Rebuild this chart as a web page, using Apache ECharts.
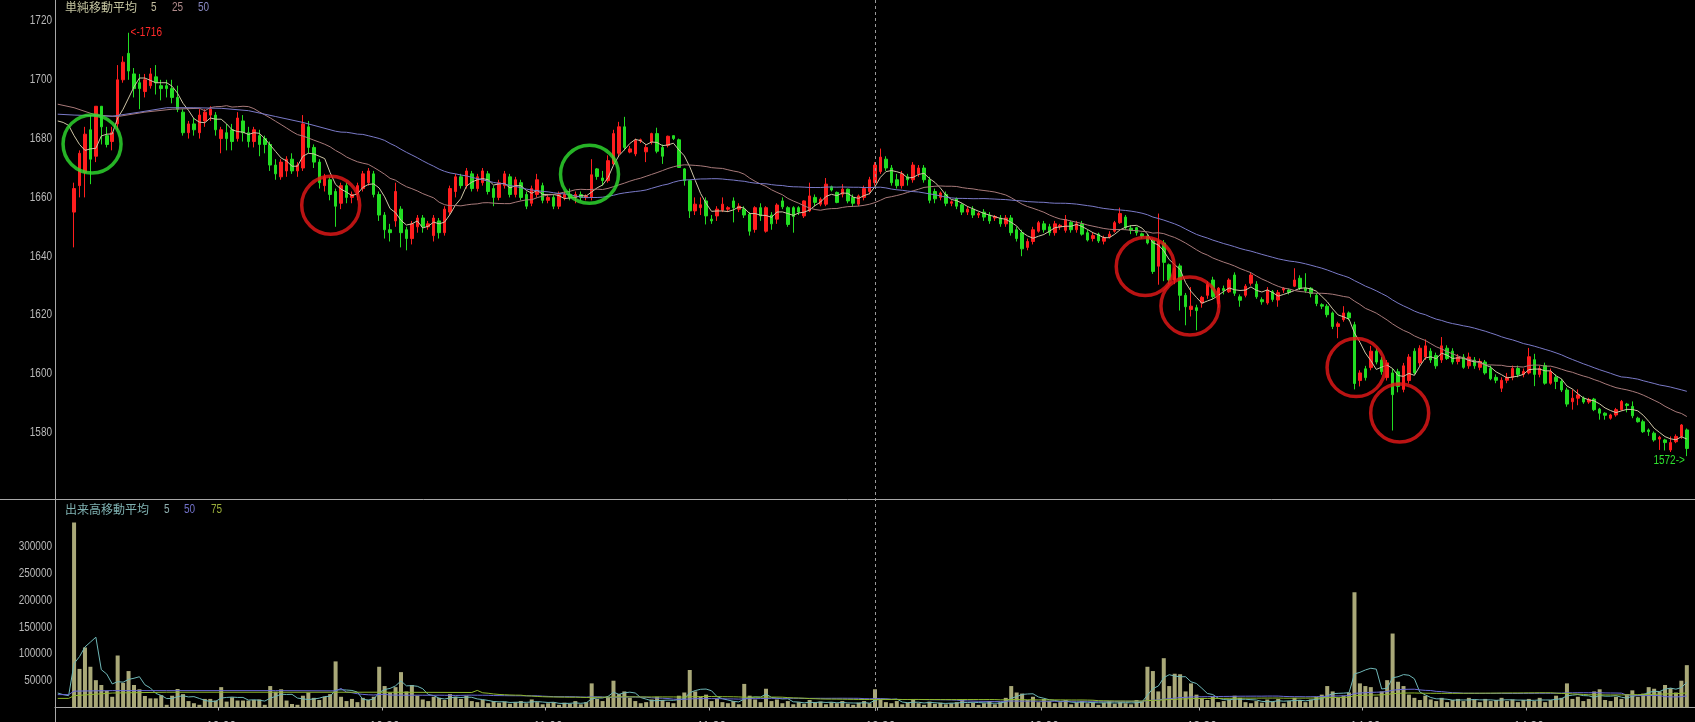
<!DOCTYPE html>
<html><head><meta charset="utf-8">
<script src="https://cdn.jsdelivr.net/npm/echarts@6/dist/echarts.min.js"></script>
<style>html,body{margin:0;padding:0;background:#000;overflow:hidden}#c{width:1695px;height:722px}</style>
</head><body><div id="c"></div>
<script>
// ---------- data ----------
const SLOTS = 301;      // category slots on the time axis
const FIRST = 3;        // slot of the first candle
const opens = [
1655,1664,1668.5,1683,1674,1691,1681,1679,1685,1700,
1709,1702,1699,1696,1698,1701,1698,1698,1697,1694,
1689,1682,1685,1682,1686,1688,1688,1680,1682,1683,
1680,1686,1682,1679,1681,1680,1678,1671,1667,1669,
1673,1669,1670,1684,1677,1672,1664,1666,1662,1658,
1664,1660,1661,1663,1665,1668,1661,1654,1649,1652,
1656,1649,1646,1650,1653,1650,1647,1652,1648,1655,
1662,1667,1664,1668,1663,1665,1668,1663,1660,1664,
1667,1661,1665,1661,1658,1661,1664,1659,1660,1657,
1660,1661,1660,1661,1660,1660,1669.7,1666.6,1665.7,1671.4,
1675,1684,1675.4,1674.8,1679.2,1675.5,1678.8,1681.7,1677,1677.7,
1681,1679.6,1669.7,1665.7,1655.4,1656.5,1658.8,1652.6,1653.7,1655.6,
1656,1658.8,1656,1656,1654.3,1649.1,1656.5,1648.5,1654,1652.6,
1658.8,1656.5,1656.5,1656.5,1653.7,1655.4,1660,1657.7,1657.7,1663.6,
1661.7,1661.1,1662.8,1660,1657.7,1660,1662,1665,1668.8,1673,
1670,1666,1664,1667,1666,1668,1670,1666,1662,1660,
1661,1658,1659.6,1657.5,1655,1656,1654,1655,1654,1653,
1653,1651,1653,1649,1648,1643,1645,1648.5,1651,1650,
1648,1650,1648.8,1651.5,1649,1651,1648,1646,1647.5,1645.1,
1646.5,1648.5,1651.4,1653.3,1649.5,1649.7,1647.6,1646.8,1645.4,1636.6,
1644.5,1637.1,1631.9,1636.7,1626.7,1621.9,1622.5,1624.1,1626.7,1631.9,
1623.9,1629,1627.9,1633.6,1626.2,1626.7,1630.8,1630.5,1625.2,1624.1,
1627.9,1625.1,1628.5,1628.5,1629.8,1632.5,1629.1,1629.1,1626.7,1623.5,
1623,1620.7,1616.1,1618.4,1620.7,1616.7,1597.7,1601.7,1602.1,1607.7,
1604.7,1598.7,1600.3,1600.7,1594.7,1597.7,1607.7,1603.7,1605.7,1607.7,
1606.2,1604.7,1608.7,1607.7,1604.2,1605.7,1602.7,1604.7,1602.2,1604,
1601.8,1598.8,1595.1,1597.8,1598.8,1601.8,1599.8,1600.3,1604.8,1599.8,
1602.8,1596.8,1598.8,1597.4,1594.5,1590.5,1591.7,1591.7,1590.4,1591.4,
1588,1586.6,1584.9,1586,1587.8,1589.7,1588.9,1584.9,1583.7,1580.9,
1579.8,1577.8,1577.5,1574.1,1576.9,1578.7,1580.9];
const closes = [
1663,1675,1681.5,1673,1691,1684,1678,1682,1700,1706,
1703,1697,1697,1700,1702,1699,1697,1697,1694,1690,
1682,1685,1683,1688,1689,1690,1683,1683,1680,1679,
1687,1682,1679,1683,1678,1678,1671,1668,1672,1673,
1669,1671,1685,1677,1672,1665,1667,1661,1657,1664,
1660,1661,1664,1668,1669,1661,1654,1649,1648,1662,
1648,1646,1651,1653,1650,1651,1653,1648,1656,1663,
1667,1664,1669,1663,1667,1669,1662,1660,1665,1668,
1661,1666,1660,1657,1663,1666,1659,1660,1657,1661,
1661,1660,1661,1660,1660.5,1667.7,1667.1,1665.7,1672.5,1681.7,
1684,1677,1676.5,1679.4,1679.6,1677,1681.7,1675.7,1674,1680.8,
1680,1670.2,1665.7,1655.4,1657.7,1657.5,1653.7,1652,1656,1657.7,
1656.5,1656.5,1657,1654,1648.5,1656.5,1653.7,1656.5,1651,1657.4,
1656.8,1650.8,1653.5,1655,1658.8,1660.5,1658.3,1659.4,1664.5,1662.5,
1658.3,1662.8,1658.8,1658,1660.5,1663,1666,1671,1673.7,1670,
1665,1664,1668,1666,1671,1670,1666,1659,1659.5,1661.5,
1658,1658.5,1657,1655,1656,1654,1654.5,1653.3,1652,1653.5,
1651,1653,1648,1646,1642.5,1645,1649,1651.4,1649,1648,
1651,1650.5,1652.5,1649,1651,1647.5,1645.5,1647,1645.2,1646.3,
1647.5,1651.4,1654.5,1649.7,1648.8,1648,1646.8,1644.5,1634.8,1645.1,
1637.9,1631.9,1635.9,1626.7,1622.8,1623,1621.5,1626,1630.5,1626.2,
1629.1,1628.3,1631.9,1627.4,1625,1629.8,1633.6,1626.2,1624.5,1628.5,
1625.3,1627.6,1629.1,1627.7,1631.9,1629.1,1628.3,1627.3,1623.9,1623,
1620.1,1616.1,1617,1620.7,1619,1596.7,1600.3,1598.7,1607.7,1604,
1600.7,1603.7,1592.9,1595.7,1602.7,1605.7,1600.3,1608.7,1609.5,1604.7,
1602.7,1609.5,1605.2,1604,1605.7,1602.2,1605.7,1602.7,1604.2,1600.3,
1598.3,1597.8,1597.8,1598.8,1601.8,1599.8,1600.8,1605.8,1599.8,1601.8,
1596.8,1600.8,1597.4,1594.5,1589.7,1591.7,1592.8,1590.4,1591.2,1587.8,
1586.6,1585.9,1586,1587.8,1590.6,1589.2,1585.7,1583.7,1580.3,1580.3,
1577.5,1578.4,1576.6,1576.6,1578.7,1582.6,1574.6];
const lows = [
1643,1660,1660,1664.5,1672,1678,1677,1676,1683,1699,
1700,1694,1690,1694,1697,1695,1693,1694,1692,1689,
1681,1680,1681,1680,1684,1686,1681,1675,1676,1676,
1679,1679,1677,1677,1674,1675,1669,1666,1666,1667,
1668,1667,1669,1675,1670,1663,1662,1659,1650,1656,
1658,1658,1659,1662,1664,1660,1652,1646,1645,1650,
1643,1642,1644,1648,1648,1649,1645,1646,1647,1654,
1660,1663,1663,1662,1662,1664,1661,1657,1659,1663,
1660,1660,1659,1656,1657,1660,1658,1658,1656,1656,
1659,1659,1658,1659,1659,1659,1666,1664,1665,1671,
1674,1676,1675,1674,1678.5,1672,1678,1675,1671.4,1677,
1679.5,1670,1664,1653,1654,1654,1650.8,1651,1652,1655,
1655,1651.5,1655,1653,1647,1648,1652,1648,1649,1651,
1656,1650,1648,1654,1653,1655,1657,1657,1657,1662,
1658,1660,1658,1657,1657,1659,1661,1664,1668,1669,
1664,1663,1663,1664,1665,1667,1665,1658,1658,1659,
1657,1657,1656,1654,1654,1653,1653,1652,1651,1652,
1650,1650,1647,1645,1640,1642,1644,1648,1648,1647,
1647,1649,1648,1648,1648,1647,1645,1645,1644.5,1644,
1646,1648,1651,1649,1647.5,1647,1646,1644,1634,1630.3,
1631.5,1630.5,1630.5,1621.5,1616.5,1619.5,1614.8,1622.5,1625.5,1625.5,
1622.5,1627,1627.5,1626.5,1622.8,1626,1630,1625.5,1623.5,1623.5,
1624.5,1622.8,1627.5,1627,1629.5,1628.5,1627.5,1626,1623,1622,
1619.2,1615.2,1612.1,1617.7,1618.2,1594.7,1595.7,1597.7,1601.2,1603.2,
1599.7,1597.7,1580.7,1593.7,1593.7,1596.7,1599.7,1602.7,1604.7,1603.7,
1601.7,1603.7,1604.7,1603.2,1603.2,1601.7,1601.7,1601.7,1601.2,1599.7,
1597.8,1596.8,1593.8,1596.8,1597.8,1598.8,1598.8,1599.8,1595.8,1598.8,
1596.3,1596.3,1594.8,1593.8,1588.8,1587.8,1589.3,1589.8,1589.8,1587.3,
1584.4,1584.4,1584.4,1585.4,1587.4,1586.9,1584.9,1583.4,1579.9,1578.9,
1576.9,1574.1,1573.9,1573.4,1576.4,1577.9,1572];
const highs = [
1665,1676,1684,1688,1691,1691,1684,1684,1705,1708,
1716,1704,1702,1702,1704,1705,1700,1700,1700,1698,
1690,1686,1687,1690,1690,1691,1689,1684,1685,1685,
1689,1688,1684,1684,1683,1681,1679,1673,1673,1674,
1675,1672,1688,1686,1678,1673,1668,1667,1663,1665,
1665,1662,1665,1669,1670,1669,1662,1655,1651,1665,
1657,1650,1652,1654,1654,1652,1654,1653,1657,1664,
1668,1668,1670,1669,1668,1670,1669,1664,1666,1669,
1668,1667,1666,1662,1664,1668,1665,1661,1661,1662,
1662,1663,1662,1662,1661,1673,1670,1669,1674.3,1683,
1685.7,1687.4,1677.5,1680,1680,1678,1682,1683.7,1678,1681,
1681,1680,1670,1666,1660,1660,1660,1654,1657,1660,
1657,1660,1658,1657,1655,1657,1658,1657,1655,1658,
1660,1657,1657,1657,1659,1665,1661,1660,1666.6,1664,
1662,1664.5,1663,1661,1661,1664,1667,1672,1676.6,1674,
1671,1668,1669,1668,1672,1671,1671,1667,1663,1662,
1662,1659,1660,1658,1657,1657,1655,1656,1655,1654,
1654,1654,1654,1650,1649,1646,1650,1652,1652,1651,
1652,1651,1654,1652,1652,1652,1649,1648,1648,1647,
1648.5,1652,1656.5,1654,1650.5,1650,1648,1647.5,1646,1654.5,
1645.5,1637.5,1636.5,1637.5,1627.5,1629.5,1623.5,1626.5,1631.5,1633,
1629.5,1630,1632.5,1634.5,1627,1630.5,1634.5,1631.5,1626,1629.5,
1628.5,1628.5,1629.5,1629,1635.9,1633.5,1634.2,1629.5,1627.5,1624,
1623.7,1621.2,1617.7,1623,1621.2,1617.7,1601.2,1602.7,1609.5,1608.7,
1605.7,1604.7,1601.7,1601.7,1603.7,1606.7,1608.7,1609.7,1611.7,1608.7,
1607.2,1612.5,1609.7,1608.7,1606.7,1606.7,1607.2,1605.7,1605.2,1604.7,
1602.8,1599.8,1598.8,1600.3,1602.8,1602.8,1601.8,1608.8,1606.8,1602.8,
1603.8,1601.8,1599.8,1598.3,1595.3,1594.7,1594.7,1592.3,1591.8,1591.8,
1588.4,1586.9,1586.4,1588.4,1591.1,1590.1,1590.6,1585.4,1584.4,1581.4,
1580.4,1578.9,1577.9,1578.7,1579.4,1582.9,1581.4];
const volumeThousands = [
345,72,112,76,51,42,31,20,97,46,
68,42,34,21.5,17,17,23,5,22,34.5,
25,12,8,5,16,16,13,38,11,19,
13,13,13,14,15,5,40,29.5,34,13,
6.5,5,22,28,18,14,20,25,86,20,
12,16,10,18,14,20,76,40,28,38,
66,30,42,22,15,12,20,18,14,25,
20,16,22,12,10,14,8,12,9,11,
7,10,12,8,15,10,6,8,10,5,
9,7,12,6,10,45,16,12,20,50,
25,30,18,12,8,10,15,20,14,10,
8,22,28,70,30,20,24,12,16,10,
8,12,6,44,22,15,10,35,12,15,
8,12,6,10,7,14,9,11,6,10,
8,12,7,5,9,12,8,34,15,10,
8,12,6,9,14,8,5,11,7,9,
6,8,10,15,7,9,5,8,12,6,
10,18,40,28,26,14,20,10,16,12,
8,10,14,6,9,12,8,10,5,9,
12,7,10,8,6,14,12,76,68,30,
92,40,63,62,30,45,24,18,14,20,
10,12,15,22,18,10,8,12,9,15,
11,16,8,12,18,14,10,15,20,24,
40,30,18,22,28,215,45,40,38,20,
30,51,138,48,40,24,18,14,22,15,
12,18,10,14,16,12,18,15,10,16,
12,14,18,12,15,10,14,16,12,18,
10,14,22,18,45,16,20,12,16,30,
34,14,12,20,16,25,32,20,26,38,
35,30,42,36,28,50,79];
// moving-average values for slots before enough candles exist
const ma5Lead  = {0:1686,1:1685.5,2:1684.5,3:1681,4:1678,5:1676,6:1676.5};
const ma25Lead = {0:1691.7,3:1690.5,7:1688,11:1687.5,16:1689,21:1690,26:1690.3};
const ma50Lead = {0:1688.3,3:1688,10:1687.6,15:1689,20:1690.5,25:1690.5,30:1690.3,35:1689.5,40:1687.5,45:1685.5,51:1682.5};
const vma5Lead  = {0:27,1:24,2:22,3:82,4:95,5:113,6:122};
const vma50Lead = {0:24,2:24,3:30.5,10:31.5,20:31.5,30:31.5,40:31.5,51:31};
const vma75Lead = {0:17,2:17,3:22,10:27,20:28.5,40:28.5,60:28.5,76:28};
const priceTicks = [1580,1600,1620,1640,1660,1680,1700,1720];
const volumeTicks = [50000,100000,150000,200000,250000,300000];
const tickLabels = {30:'10:00',60:'10:30',90:'11:00',120:'11:30',151:'12:30',181:'13:00',210:'13:30',240:'14:00',270:'14:30'};
const highMark = {slot:13, value:1716, text:'<-1716'};
const lowMark = {slot:299, value:1572, text:'1572->'};
const circles = [
  {x:6.3, y:1678.2, color:'#2fe02f'},
  {x:50.1, y:1657.3, color:'#e81818'},
  {x:97.6, y:1667.9, color:'#2fe02f'},
  {x:199.6, y:1636.5, color:'#e81818'},
  {x:207.8, y:1623.1, color:'#e81818'},
  {x:238.3, y:1602.1, color:'#e81818'},
  {x:246.3, y:1586.7, color:'#e81818'}
];
const dividerSlot = 150;

// ---------- build ----------
const cats = Array.from({length:SLOTS}, (_, i) => String(i));
const candleData = cats.map((_, i) => {
  const k = i - FIRST;
  return (k >= 0 && k < opens.length) ? [opens[k], closes[k], lows[k], highs[k]] : ['-','-','-','-'];
});
const volumes = volumeThousands.map(v => v * 1000);
const volData = cats.map((_, i) => { const k = i - FIRST; return (k >= 0 && k < volumes.length) ? volumes[k] : '-'; });
function sma(vals, n, lead, scale) {
  const out = new Array(SLOTS).fill(null);
  for (const key in lead) out[+key] = lead[key] * scale;
  for (let i = n - 1; i < vals.length; i++) {
    let s = 0; for (let j = i - n + 1; j <= i; j++) s += vals[j];
    out[FIRST + i] = s / n;
  }
  return out;
}
const LBL_FONT = '12.5px "Liberation Sans", Arial, sans-serif';
const LBL_SCALE = 0.8;
const GRAY = '#a8a8a8';
const tickSet = new Set(Object.keys(tickLabels).map(Number));
const lineS = (name, data, color, x, y) => ({
  name, type:'line', data, xAxisIndex:x, yAxisIndex:y, symbol:'none', connectNulls:true,
  lineStyle:{color, width:1}, itemStyle:{color}, silent:true, z:3
});

const chart = echarts.init(document.getElementById('c'), null, {renderer:'canvas'});
chart.setOption({
  backgroundColor:'#000',
  animation:false,
  grid:[
    {left:55, right:0, top:0, bottom:171.8, outerBoundsMode:'none', containLabel:false},
    {left:55, right:0, top:499, bottom:14.5, outerBoundsMode:'none', containLabel:false}
  ],
  xAxis:[
    {type:'category', gridIndex:0, data:cats, show:false},
    {type:'category', gridIndex:1, data:cats, offset:6.5,
      axisLine:{show:true, lineStyle:{color:GRAY, width:1}},
      axisTick:{show:true, length:3, interval:(i)=>tickSet.has(i), lineStyle:{color:GRAY}},
      axisLabel:{interval:(i)=>tickSet.has(i), formatter:(v,i)=>tickLabels[i]||'', color:'#b8b8b8', fontSize:12, fontFamily:'Liberation Sans', margin:7},
      splitLine:{show:false}},
    {type:'value', gridIndex:0, min:-0.5, max:SLOTS-0.5, show:false}
  ],
  yAxis:[
    {type:'value', gridIndex:0, min:1540, max:1727.14, interval:20,
      axisLine:{show:false}, axisTick:{show:false}, splitLine:{show:false}, axisLabel:{show:false}},
    {type:'value', gridIndex:1, min:0, max:389000, interval:50000,
      axisLine:{show:false}, axisTick:{show:false}, splitLine:{show:false}, axisLabel:{show:false}}
  ],
  series:[
    {name:'price', type:'candlestick', xAxisIndex:0, yAxisIndex:0, data:candleData, barWidth:3,
      itemStyle:{color:'#ff1e1e', color0:'#22dd22', borderColor:'#ff1e1e', borderColor0:'#22dd22', borderWidth:1},
      silent:true, z:2},
    lineS('ma5', sma(closes,5,ma5Lead,1), '#cfc6a6', 0, 0),
    lineS('ma25', sma(closes,25,ma25Lead,1), '#a87a7a', 0, 0),
    lineS('ma50', sma(closes,50,ma50Lead,1), '#7a7ac8', 0, 0),
    {name:'volume', type:'bar', xAxisIndex:1, yAxisIndex:1, data:volData, barWidth:4,
      itemStyle:{color:'#a9a878'}, silent:true, z:2},
    lineS('vma5', sma(volumes,5,vma5Lead,1000), '#6fb8b8', 1, 1),
    lineS('vma50', sma(volumes,50,vma50Lead,1000), '#6a6ad8', 1, 1),
    lineS('vma75', sma(volumes,75,vma75Lead,1000), '#8fb82c', 1, 1),
    {name:'circles', type:'scatter', xAxisIndex:2, yAxisIndex:0, symbol:'circle', symbolSize:58,
      data:circles.map(c=>({value:[c.x,c.y], itemStyle:{color:'rgba(0,0,0,0)', borderColor:c.color, borderWidth:3.5}})),
      silent:true, z:5}
  ],
  graphic:{elements:[
    {id:'sep', type:'line', shape:{x1:0, y1:499.5, x2:1695, y2:499.5}, style:{stroke:GRAY, lineWidth:1}, z:10},
    {id:'yline', type:'line', shape:{x1:55.5, y1:0, x2:55.5, y2:722}, style:{stroke:GRAY, lineWidth:1}, z:10},
    {id:'t1', type:'text', left:65, top:1, style:{text:'単純移動平均', fill:'#c4c4a0', font:'12px "Noto Sans CJK JP"'}},
    {id:'t2', type:'text', left:151, top:1, style:{text:'5', fill:'#c4bea0', font:LBL_FONT}, scaleX:LBL_SCALE},
    {id:'t3', type:'text', left:172, top:1, style:{text:'25', fill:'#b08a8a', font:LBL_FONT}, scaleX:LBL_SCALE},
    {id:'t4', type:'text', left:198, top:1, style:{text:'50', fill:'#8888c0', font:LBL_FONT}, scaleX:LBL_SCALE},
    {id:'v1', type:'text', left:65, top:503, style:{text:'出来高移動平均', fill:'#7fb2b2', font:'12px "Noto Sans CJK JP"'}},
    {id:'v2', type:'text', left:164, top:503, style:{text:'5', fill:'#8fb0b0', font:LBL_FONT}, scaleX:LBL_SCALE},
    {id:'v3', type:'text', left:184, top:503, style:{text:'50', fill:'#7070c8', font:LBL_FONT}, scaleX:LBL_SCALE},
    {id:'v4', type:'text', left:211, top:503, style:{text:'75', fill:'#9aae3a', font:LBL_FONT}, scaleX:LBL_SCALE}
  ]}
});

// elements placed through the chart's own scales
const extra = [];
const dx = Math.round(chart.convertToPixel({xAxisIndex:1}, dividerSlot)) + 0.5;
extra.push({id:'vdash', type:'line', shape:{x1:dx, y1:0, x2:dx, y2:714}, style:{stroke:'#9a9a9a', lineWidth:1, lineDash:[3,3]}, z:10});
function yLabel(id, text, py) {
  return {id, type:'text', x:52, y:py, scaleX:LBL_SCALE, z:10,
    style:{text, fill:'#b8b8b8', font:LBL_FONT, align:'right', verticalAlign:'middle'}};
}
priceTicks.forEach((v, i) => extra.push(yLabel('py'+i, String(v), chart.convertToPixel({yAxisIndex:0}, v))));
volumeTicks.forEach((v, i) => extra.push(yLabel('vy'+i, String(v), chart.convertToPixel({yAxisIndex:1}, v))));
const hp = chart.convertToPixel({xAxisIndex:2, yAxisIndex:0}, [highMark.slot, highMark.value]);
extra.push({id:'hm', type:'text', x:hp[0]+2, y:hp[1], scaleX:LBL_SCALE, z:10,
  style:{text:highMark.text, fill:'#ff2a2a', font:LBL_FONT, align:'left', verticalAlign:'middle'}});
const lp = chart.convertToPixel({xAxisIndex:2, yAxisIndex:0}, [lowMark.slot, lowMark.value]);
extra.push({id:'lm', type:'text', x:lp[0]-2, y:lp[1]+4, scaleX:LBL_SCALE, z:10,
  style:{text:lowMark.text, fill:'#2ee02e', font:LBL_FONT, align:'right', verticalAlign:'middle'}});
chart.setOption({graphic:{elements:extra}});
</script></body></html>
